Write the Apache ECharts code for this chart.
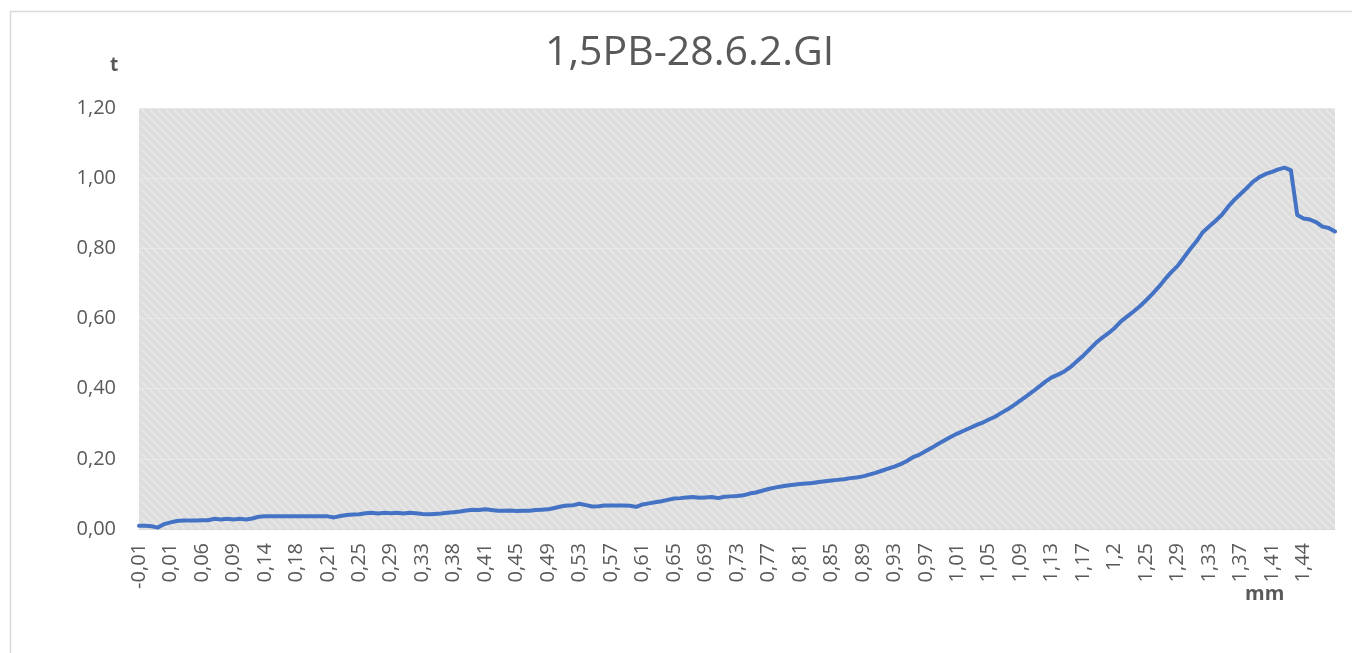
<!DOCTYPE html>
<html>
<head>
<meta charset="utf-8">
<title>1,5PB-28.6.2.GI</title>
<script src="https://cdn.jsdelivr.net/npm/echarts@6/dist/echarts.min.js"></script>
<style>
  html, body { margin: 0; padding: 0; background: #ffffff; }
  #chart { width: 1352px; height: 653px; }
</style>
</head>
<body>
<div id="chart"></div>
<script>
// Displacement (mm) for each sample: the category axis
const displacementMm = [
  -0.01, -0.01, 0, 0, 0.01,
  0.01, 0.02, 0.03, 0.04, 0.05,
  0.06, 0.06, 0.07, 0.08, 0.08,
  0.09, 0.1, 0.11, 0.12, 0.13,
  0.14, 0.15, 0.16, 0.16, 0.17,
  0.18, 0.19, 0.19, 0.2, 0.2,
  0.21, 0.22, 0.23, 0.23, 0.24,
  0.25, 0.26, 0.27, 0.27, 0.28,
  0.29, 0.3, 0.31, 0.31, 0.32,
  0.33, 0.34, 0.35, 0.36, 0.37,
  0.38, 0.38, 0.39, 0.4, 0.4,
  0.41, 0.42, 0.43, 0.43, 0.44,
  0.45, 0.46, 0.47, 0.47, 0.48,
  0.49, 0.5, 0.51, 0.51, 0.52,
  0.53, 0.54, 0.55, 0.55, 0.56,
  0.57, 0.58, 0.59, 0.59, 0.6,
  0.61, 0.62, 0.63, 0.63, 0.64,
  0.65, 0.66, 0.67, 0.67, 0.68,
  0.69, 0.7, 0.71, 0.71, 0.72,
  0.73, 0.74, 0.75, 0.75, 0.76,
  0.77, 0.78, 0.79, 0.79, 0.8,
  0.81, 0.82, 0.83, 0.83, 0.84,
  0.85, 0.86, 0.87, 0.87, 0.88,
  0.89, 0.9, 0.91, 0.91, 0.92,
  0.93, 0.94, 0.95, 0.95, 0.96,
  0.97, 0.98, 0.99, 0.99, 1,
  1.01, 1.02, 1.03, 1.03, 1.04,
  1.05, 1.06, 1.07, 1.07, 1.08,
  1.09, 1.1, 1.11, 1.11, 1.12,
  1.13, 1.14, 1.15, 1.15, 1.16,
  1.17, 1.18, 1.18, 1.19, 1.19,
  1.2, 1.21, 1.22, 1.23, 1.24,
  1.25, 1.26, 1.27, 1.27, 1.28,
  1.29, 1.3, 1.31, 1.31, 1.32,
  1.33, 1.34, 1.35, 1.35, 1.36,
  1.37, 1.38, 1.39, 1.39, 1.4,
  1.41, 1.42, 1.42, 1.43, 1.43,
  1.44, 1.45, 1.45, 1.46, 1.47,
  1.47
];

// Load (t) measured at each sample
const loadT = [
  0.009, 0.009, 0.008, 0.004, 0.014,
  0.019, 0.023, 0.024, 0.024, 0.024,
  0.025, 0.025, 0.029, 0.027, 0.029,
  0.027, 0.029, 0.027, 0.030, 0.035,
  0.036, 0.036, 0.036, 0.036, 0.036,
  0.036, 0.036, 0.036, 0.036, 0.036,
  0.036, 0.033, 0.037, 0.040, 0.041,
  0.042, 0.045, 0.046, 0.044, 0.046,
  0.045, 0.046, 0.044, 0.046, 0.045,
  0.043, 0.042, 0.043, 0.044, 0.046,
  0.048, 0.050, 0.053, 0.055, 0.054,
  0.056, 0.054, 0.052, 0.052, 0.053,
  0.051, 0.052, 0.052, 0.054, 0.055,
  0.056, 0.060, 0.064, 0.067, 0.068,
  0.072, 0.068, 0.064, 0.065, 0.067,
  0.067, 0.067, 0.067, 0.066, 0.063,
  0.070, 0.073, 0.076, 0.079, 0.083,
  0.087, 0.088, 0.090, 0.091, 0.089,
  0.090, 0.091, 0.088, 0.092, 0.093,
  0.094, 0.096, 0.101, 0.104, 0.109,
  0.114, 0.118, 0.121, 0.124, 0.126,
  0.128, 0.130, 0.131, 0.134, 0.136,
  0.138, 0.140, 0.142, 0.145, 0.147,
  0.150, 0.155, 0.160, 0.166, 0.172,
  0.178, 0.185, 0.194, 0.205, 0.212,
  0.222, 0.232, 0.243, 0.253, 0.263,
  0.272, 0.280, 0.288, 0.296, 0.303,
  0.312, 0.320, 0.331, 0.341, 0.353,
  0.366, 0.379, 0.392, 0.406, 0.420,
  0.432, 0.440, 0.449, 0.462, 0.478,
  0.494, 0.512, 0.530, 0.545, 0.558,
  0.573, 0.592, 0.606, 0.620, 0.635,
  0.652, 0.670, 0.690, 0.712, 0.732,
  0.750, 0.774, 0.798, 0.820, 0.846,
  0.862, 0.878, 0.895, 0.918, 0.938,
  0.955, 0.972, 0.990, 1.003, 1.012,
  1.018, 1.025, 1.030, 1.022, 0.895,
  0.885, 0.882, 0.875, 0.862, 0.858,
  0.848
];

// Value axis ticks (t)
const loadTicks = [0, 0.2, 0.4, 0.6, 0.8, 1.0, 1.2];

const chartTitle = '1,5PB-28.6.2.GI';
const yAxisName = 't';
const xAxisName = 'mm';

const textColor = '#595959';
const fontFamily = '"Open Sans", "Liberation Sans", sans-serif';
const labelStep = 5;

// Diagonal hatch used to fill the plot area
function hatchPattern() {
  const c = document.createElement('canvas');
  c.width = 8; c.height = 8;
  const ctx = c.getContext('2d');
  ctx.fillStyle = '#dddddd';
  ctx.fillRect(0, 0, 8, 8);
  ctx.strokeStyle = '#e6e6e6';
  ctx.lineWidth = 2;
  ctx.beginPath();
  [-8, 0, 8].forEach(function (k) {
    ctx.moveTo(-1, k - 1);
    ctx.lineTo(9, k + 9);
  });
  ctx.stroke();
  return { image: c, repeat: 'repeat' };
}

const decimalComma = function (v) { return String(v).replace('.', ','); };

const chart = echarts.init(document.getElementById('chart'), null, { renderer: 'canvas' });

chart.setOption({
  animation: false,
  backgroundColor: '#ffffff',
  title: {
    text: chartTitle,
    left: 540,
    top: 28,
    textStyle: {
      color: textColor,
      fontFamily: fontFamily,
      fontSize: 41,
      fontWeight: 'normal'
    }
  },
  graphic: [
    {
      type: 'rect',
      left: 8, top: 9,
      shape: { width: 1400, height: 700 },
      style: { fill: 'none', stroke: '#d9d9d9', lineWidth: 1.5 },
      silent: true, z: -1
    },
    {
      type: 'text',
      left: 110, top: 56,
      style: { text: yAxisName, fill: textColor, font: 'bold 19px ' + fontFamily }
    },
    {
      type: 'text',
      left: 1245, top: 584,
      style: { text: xAxisName, fill: textColor, font: 'bold 20px ' + fontFamily }
    }
  ],
  grid: {
    left: 139,
    top: 108,
    width: 1196,
    height: 421,
    show: true,
    borderWidth: 0,
    backgroundColor: hatchPattern()
  },
  xAxis: {
    type: 'category',
    data: displacementMm,
    boundaryGap: false,
    axisLine: { show: true, lineStyle: { color: '#d9d9d9', width: 1 } },
    axisTick: { show: false },
    axisLabel: {
      interval: function (i) {
        return i % labelStep === 0 && i + labelStep < displacementMm.length;
      },
      rotate: 90,
      margin: 14,
      color: textColor,
      fontFamily: fontFamily,
      fontSize: 20,
      formatter: decimalComma
    },
    splitLine: { show: false }
  },
  yAxis: {
    type: 'value',
    min: loadTicks[0],
    max: loadTicks[loadTicks.length - 1],
    interval: 0.2,
    axisLine: { show: false },
    axisTick: { show: false },
    axisLabel: {
      margin: 23,
      color: textColor,
      fontFamily: fontFamily,
      fontSize: 20,
      formatter: function (v) { return v.toFixed(2).replace('.', ','); }
    },
    splitLine: { show: true, lineStyle: { color: '#e8e8e8', width: 1 } }
  },
  series: [
    {
      type: 'line',
      data: loadT,
      showSymbol: false,
      symbol: 'none',
      lineStyle: { color: '#4472C4', width: 4, join: 'round', cap: 'round' },
      itemStyle: { color: '#4472C4' }
    }
  ]
});
</script>
</body>
</html>
